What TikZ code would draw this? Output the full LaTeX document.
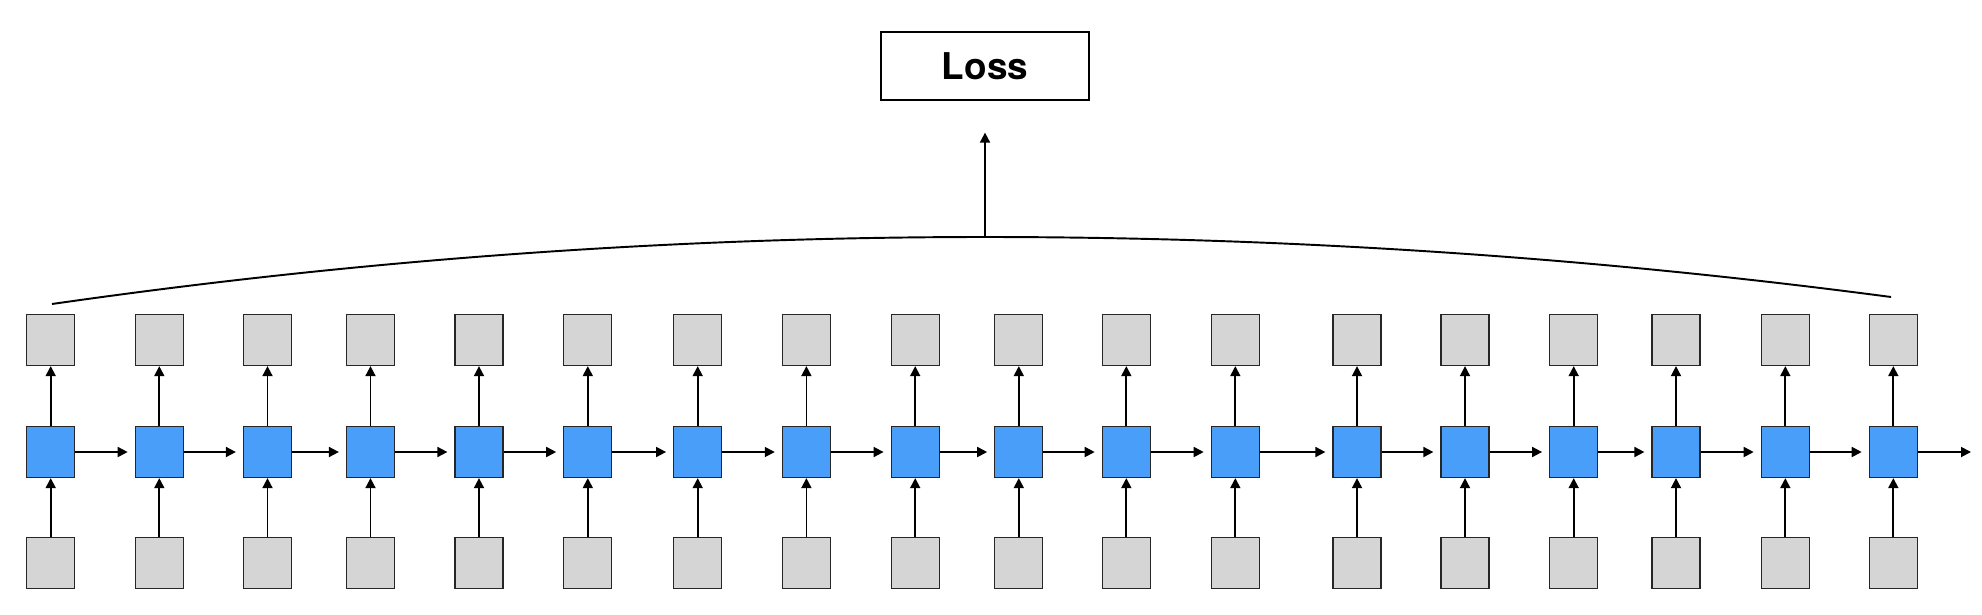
\documentclass[tikz,border=0pt]{standalone}
\usepackage{fontspec}
\setmainfont{TeX Gyre Heros}
\usetikzlibrary{arrows.meta,positioning,calc}
\definecolor{cellblue}{RGB}{72,158,248}
\definecolor{iogray}{RGB}{213,213,213}
\tikzset{
  iobox/.style={draw=black!85, fill=iogray, line width=0.35pt,
    minimum width=4.8mm, minimum height=5.1mm, inner sep=0pt},
  cell/.style={iobox, fill=cellblue},
  arr/.style={-{Triangle[length=1mm,width=1mm]}, line width=0.5pt}
}

\begin{document}
\begin{tikzpicture}[x=0.1mm,y=-0.1mm]
  \useasboundingbox (0,0) rectangle (1982,614);

  % Loss box
  \node [draw, line width=0.35pt, minimum width=20.8mm, minimum height=6.8mm,
    font=\bfseries\fontsize{10.5}{12}\selectfont] (loss) at (985,66) {Loss};

  % Unrolled cells: hidden state, output above, input below
  \foreach \x [count=\i] in {50.7,159.3,267.5,370.5,479,587.8,697.7,806.4,915.2,
      1018.8,1126.3,1235.3,1357,1465,1573.7,1676,1785.3,1893.3} {
    \node [cell]  (h\i)   at (\x,452) {};
    \node [iobox] (out\i) at (\x,340) {};
    \node [iobox] (in\i)  at (\x,563) {};
    \draw [arr] (h\i) -- (out\i);
    \draw [arr] (in\i) -- (h\i);
  }

  % Recurrent connections
  \foreach \i [count=\j from 2] in {1,...,17}
    \draw [arr, shorten >=0.7mm] (h\i) -- (h\j);
  \coordinate (next) at (1971,452);
  \draw [arr] (h18) -- (next);

  % Outputs gathered into the loss
  \coordinate (first) at (52,304);
  \coordinate (peak)  at (985,237);
  \coordinate (last)  at (1891,297);
  \draw [line width=0.55pt] (first) .. controls (363,259.3) and (674,237) .. (peak)
    .. controls (1287,237) and (1589,257) .. (last);
  \draw [arr, shorten >=3.2mm] (peak) -- (loss);
\end{tikzpicture}
\end{document}
